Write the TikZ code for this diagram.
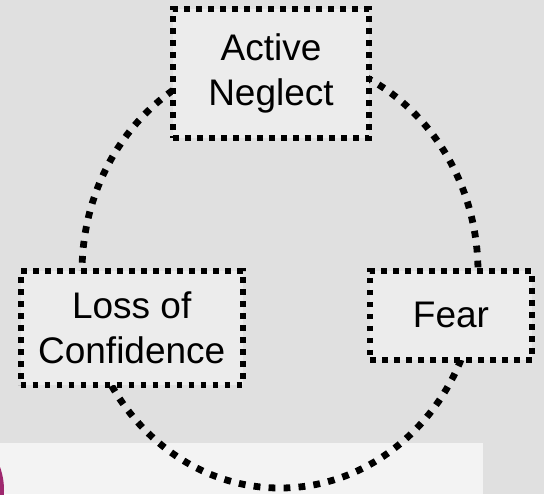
\documentclass[tikz,border=0pt]{standalone}
\usepackage{fontspec}
\setmainfont{Liberation Sans}
\usepackage{xcolor}
\usepackage{tikz}
\usetikzlibrary{calc}
\definecolor{stonecolor}{RGB}{224,224,224}
\definecolor{boxcolor}{RGB}{236,236,236}
\definecolor{panelcolor}{RGB}{243,243,243}
\definecolor{dotcolor}{RGB}{158,40,110}

\begin{document}
\begin{tikzpicture}[x=0.5pt,y=-0.5pt,
  stagebox/.style={draw=black,fill=boxcolor,line width=2.8pt,
    dash pattern=on 2.8pt off 3.2pt,align=center,inner sep=0pt,
    font=\fontsize{18.5}{22.5}\selectfont},
  cycleline/.style={draw=black,line width=3.4pt,dash pattern=on 3.4pt off 4.1pt}]
  \useasboundingbox (0,0) rectangle (544,494);
  \fill[stonecolor] (0,0) rectangle (544,494);
  \fill[panelcolor] (0,443) rectangle (483,494);
  \fill[dotcolor] (-64,490) circle (68);
  \coordinate (ring) at (280,272);
  \draw[cycleline] (ring) ellipse [x radius=198, y radius=216];
  \node[stagebox,minimum width=98pt,minimum height=64.5pt] (neglect) at (271,73.5)
    {Active\\Neglect};
  \node[stagebox,minimum width=111pt,minimum height=57pt] (loss) at (131.7,328)
    {Loss of\\Confidence};
  \node[stagebox,minimum width=81pt,minimum height=44.5pt] (fear) at (451,315.3)
    {Fear};
\end{tikzpicture}
\end{document}
